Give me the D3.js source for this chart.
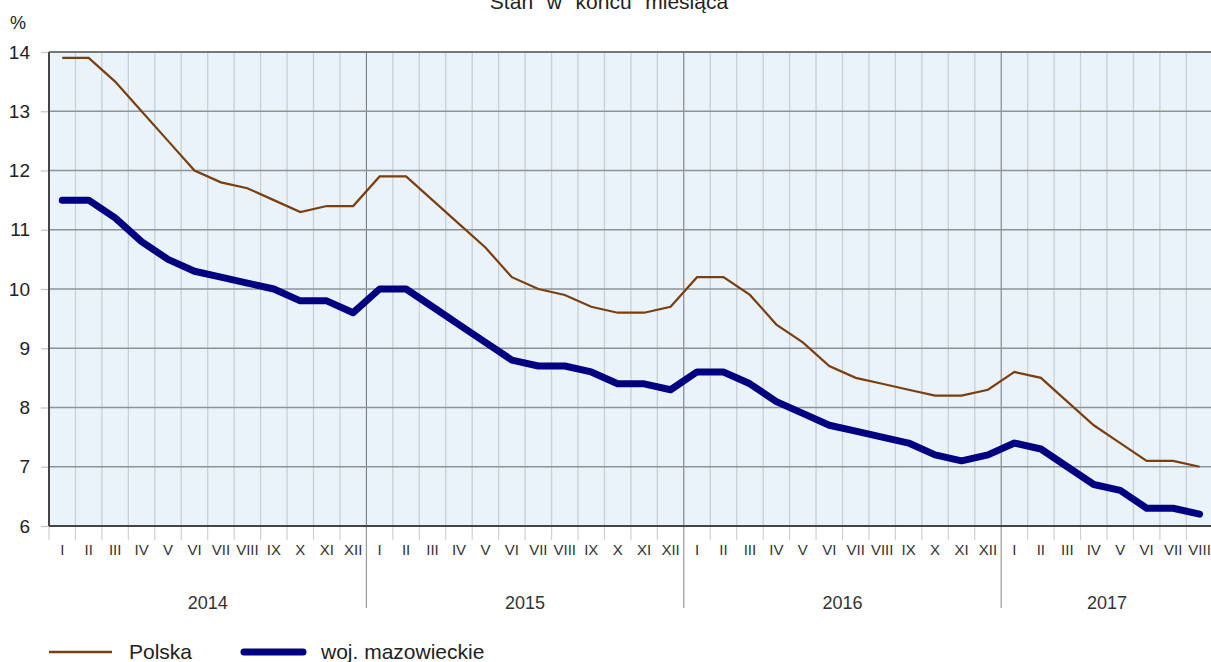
<!DOCTYPE html>
<html><head><meta charset="utf-8">
<script src="https://cdn.jsdelivr.net/npm/d3@7"></script>
<style>
html,body{margin:0;padding:0;background:#fff;}
svg{display:block;font-family:"Liberation Sans",Arial,sans-serif;}
</style></head>
<body>
<svg id="chart" width="1211" height="662"></svg>
<script>
const years = ["2014","2015","2016","2017"];
const monthsPerYear = [12,12,12,8];
const monthNames = ["I","II","III","IV","V","VI","VII","VIII","IX","X","XI","XII"];
const polska = [
  13.9,13.9,13.5,13.0,12.5,12.0,11.8,11.7,11.5,11.3,11.4,11.4,
  11.9,11.9,11.5,11.1,10.7,10.2,10.0,9.9,9.7,9.6,9.6,9.7,
  10.2,10.2,9.9,9.4,9.1,8.7,8.5,8.4,8.3,8.2,8.2,8.3,
  8.6,8.5,8.1,7.7,7.4,7.1,7.1,7.0
];
const mazowieckie = [
  11.5,11.5,11.2,10.8,10.5,10.3,10.2,10.1,10.0,9.8,9.8,9.6,
  10.0,10.0,9.7,9.4,9.1,8.8,8.7,8.7,8.6,8.4,8.4,8.3,
  8.6,8.6,8.4,8.1,7.9,7.7,7.6,7.5,7.4,7.2,7.1,7.2,
  7.4,7.3,7.0,6.7,6.6,6.3,6.3,6.2
];
const yTicks = [6,7,8,9,10,11,12,13,14];
const seriesNames = ["Polska","woj. mazowieckie"];

(function(){
const cats = [];
years.forEach((y,yi)=>{ for(let m=0;m<monthsPerYear[yi];m++) cats.push({key:y+"-"+m, year:y, month:monthNames[m], yi}); });

const svg = d3.select("#chart");
const pL = 49, pT = 52, pB = 526;
const band = 26.45;
const pR = pL + band*cats.length;

const x = d3.scaleBand().domain(cats.map(d=>d.key)).range([pL,pR]).paddingInner(0).paddingOuter(0);
const y = d3.scaleLinear().domain([6,14]).range([pB,pT]);
const cx = k => x(k) + x.bandwidth()/2;

svg.append("text").attr("x",609).attr("y",9).attr("text-anchor","middle")
  .attr("font-size",21).attr("fill","#222").style("white-space","pre").style("word-spacing","1px")
  .text("Stan  w  końcu  miesiąca");
svg.append("text").attr("x",10).attr("y",29).attr("font-size",18).attr("fill","#222").text("%");

svg.append("rect").attr("x",pL).attr("y",pT).attr("width",pR-pL).attr("height",pB-pT).attr("fill","#eaf3f9");

const yearStarts = new Set();
let acc=0; monthsPerYear.forEach((n,i)=>{ if(i>0) yearStarts.add(acc); acc+=n; });
svg.append("g").selectAll("line").data(cats.slice(1).map((d,i)=>({xv:x(d.key), idx:i+1})))
  .join("line")
  .attr("x1",d=>d.xv).attr("x2",d=>d.xv).attr("y1",pT).attr("y2",pB)
  .attr("stroke",d=>yearStarts.has(d.idx)?"#6f7476":"#c9d0d3")
  .attr("stroke-width",d=>yearStarts.has(d.idx)?1:1.3);

svg.append("g").selectAll("line").data(yTicks).join("line")
  .attr("x1",pL).attr("x2",pR).attr("y1",d=>y(d)).attr("y2",d=>y(d))
  .attr("stroke","#8e9496").attr("stroke-width",1.3);

const yAxis = d3.axisLeft(y).tickValues(yTicks).tickSize(8).tickPadding(11).tickFormat(d3.format("d"));
const gy = svg.append("g").attr("transform",`translate(${pL},0)`).call(yAxis);
gy.select(".domain").remove();
gy.selectAll(".tick line").attr("stroke","#c8c8c8").attr("stroke-width",1.3);
gy.selectAll(".tick text").attr("font-size",19).attr("fill","#222").attr("font-family","Liberation Sans, Arial, sans-serif");

const tickXs = cats.map(d=>x(d.key));
svg.append("g").selectAll("line").data(tickXs.map((v,i)=>({v,i}))).join("line")
  .attr("x1",d=>d.v).attr("x2",d=>d.v).attr("y1",pB)
  .attr("y2",d=>yearStarts.has(d.i)?608:540)
  .attr("stroke",d=>yearStarts.has(d.i)?"#9a9a9a":"#d0d0d0").attr("stroke-width",1.2);

const xAxis = d3.axisBottom(x).tickSize(0).tickPadding(18).tickFormat(k=>cats.find(c=>c.key===k).month);
const gx = svg.append("g").attr("transform",`translate(0,${pB})`).call(xAxis);
gx.select(".domain").remove();
gx.selectAll(".tick text").attr("font-size",15).attr("fill","#333").attr("font-family","Liberation Sans, Arial, sans-serif");

let start=0;
years.forEach((yr,i)=>{
  const first = cats[start].key, last = cats[start+monthsPerYear[i]-1].key;
  const mid = (x(first) + x(last)+x.bandwidth())/2;
  svg.append("text").attr("x",mid).attr("y",609).attr("text-anchor","middle")
    .attr("font-size",18).attr("fill","#333").text(yr);
  start += monthsPerYear[i];
});

svg.append("line").attr("x1",pL).attr("x2",pL).attr("y1",pT).attr("y2",pB).attr("stroke","#444").attr("stroke-width",2);
svg.append("line").attr("x1",pL).attr("x2",pR).attr("y1",pB).attr("y2",pB).attr("stroke","#444").attr("stroke-width",2);
svg.append("line").attr("x1",pL).attr("x2",pR).attr("y1",pT).attr("y2",pT).attr("stroke","#666").attr("stroke-width",1.5);

const line = d3.line().x((d,i)=>cx(cats[i].key)).y(d=>y(d));
svg.append("path").datum(polska).attr("d",line).attr("fill","none")
  .attr("stroke","#7a3f10").attr("stroke-width",2.2).attr("stroke-linejoin","miter");
svg.append("path").datum(mazowieckie).attr("d",line).attr("fill","none")
  .attr("stroke","#000080").attr("stroke-width",7).attr("stroke-linejoin","round").attr("stroke-linecap","round");

const lg = svg.append("g");
lg.append("line").attr("x1",49).attr("x2",112).attr("y1",652).attr("y2",652).attr("stroke","#7a3f10").attr("stroke-width",2.5);
lg.append("text").attr("x",129).attr("y",659).attr("font-size",21).attr("fill","#222").text(seriesNames[0]);
lg.append("line").attr("x1",244).attr("x2",303).attr("y1",652).attr("y2",652).attr("stroke","#000080").attr("stroke-width",7).attr("stroke-linecap","round");
lg.append("text").attr("x",321).attr("y",659).attr("font-size",21).attr("fill","#222").text(seriesNames[1]);
})();
</script>
</body></html>
